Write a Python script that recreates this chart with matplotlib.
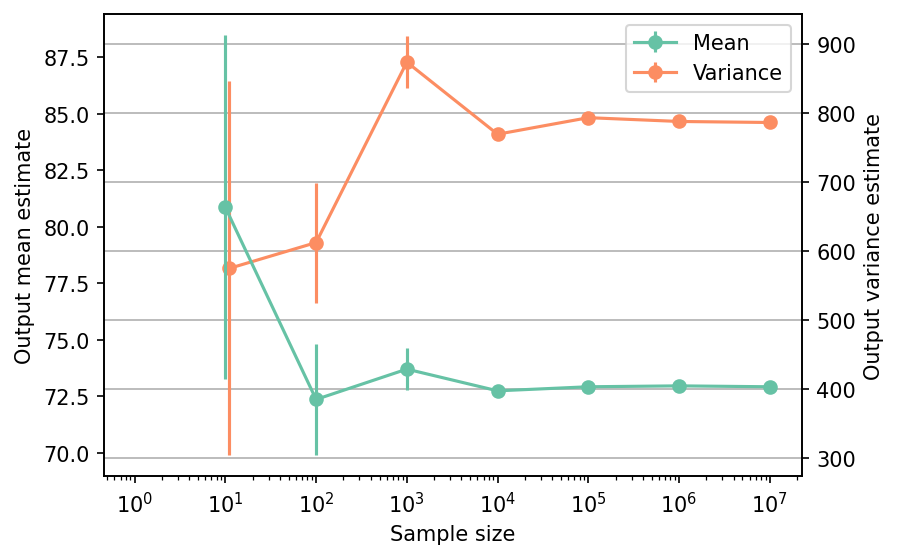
import matplotlib
matplotlib.use("Agg")
import matplotlib.pyplot as plt

# Sample sizes
n_mean = [10, 100, 1000, 10000, 100000, 1000000, 10000000]
n_var = [11, 100, 1000, 10000, 100000, 1000000, 10000000]

# Output mean estimate and its error
mean_est = [80.86, 72.37, 73.71, 72.75, 72.93, 72.97, 72.93]
mean_err = [7.6, 2.45, 0.92, 0.2, 0.06, 0.02, 0.006]

# Output variance estimate and its error
var_est = [575, 612.5, 874, 769.5, 793.5, 788, 786.5]
var_err = [271, 87, 38, 6, 2, 0.6, 0.2]

c_mean = "#66c2a5"
c_var = "#fc8d62"

fig = plt.figure(figsize=(5.993, 3.733), dpi=150)
ax1 = fig.add_axes([0.1157, 0.148, 0.776, 0.825])
ax2 = ax1.twinx()

h1 = ax1.errorbar(n_mean, mean_est, yerr=mean_err, color=c_mean, marker="o", label="Mean")
h2 = ax2.errorbar(n_var, var_est, yerr=var_err, color=c_var, marker="o", label="Variance")

ax1.set_xscale("log")
ax1.set_xlim(0.46, 2.24e7)
ax1.set_ylim(68.98, 89.4)
ax2.set_ylim(274, 943.5)
ax1.set_yticks([70.0, 72.5, 75.0, 77.5, 80.0, 82.5, 85.0, 87.5])
ax2.set_yticks([300, 400, 500, 600, 700, 800, 900])

ax2.grid(axis="y", color="#b0b0b0")
ax2.set_axisbelow(True)
ax1.set_zorder(ax2.get_zorder() + 1)
ax1.patch.set_visible(False)

ax1.set_xlabel("Sample size")
ax1.set_ylabel("Output mean estimate")
ax2.set_ylabel("Output variance estimate")

ax1.legend([h1, h2], ["Mean", "Variance"], loc="upper right")

fig.savefig("out.png", dpi=150)
